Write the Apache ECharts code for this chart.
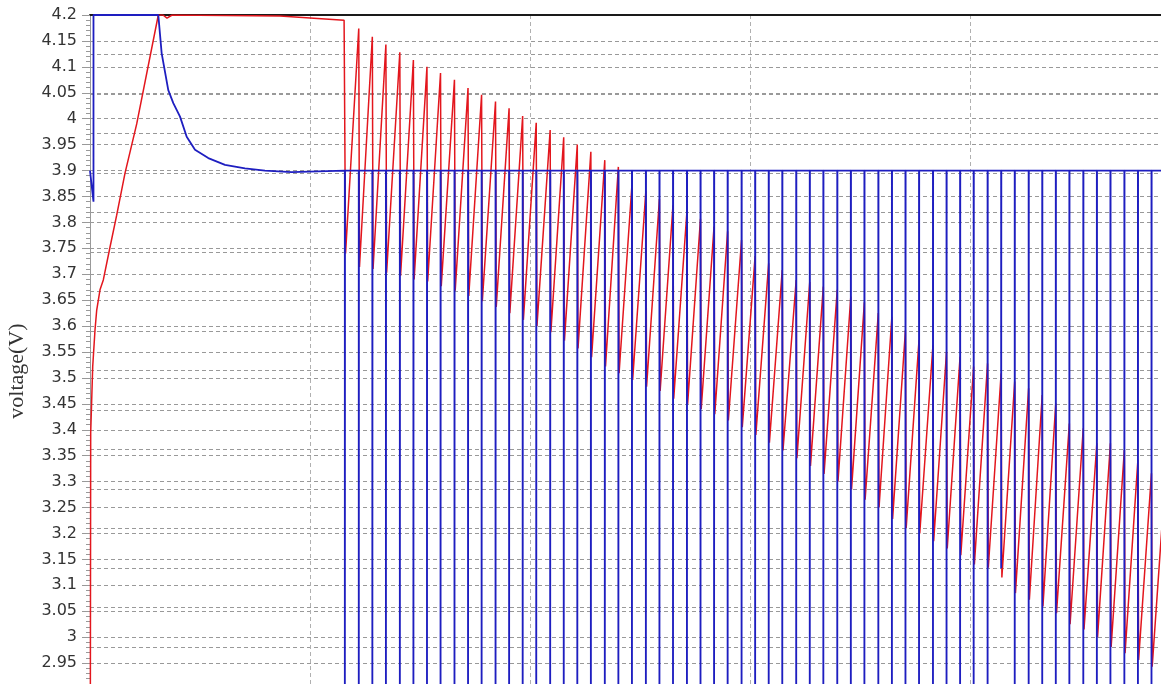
<!DOCTYPE html>
<html>
<head>
<meta charset="utf-8">
<script src="https://cdn.jsdelivr.net/npm/echarts@6/dist/echarts.min.js"></script>
<style>
html,body{margin:0;padding:0;background:#fff;}
#chart{width:1161px;height:684px;}
</style>
</head>
<body>
<div id="chart"></div>
<script>
// ---- data (time in minutes, voltage in V) ----
const yTicks = [2.9, 4.2, 0.05];           // min, max, step of voltage axis
const xGrid = [0, 292.1, 60];               // min, max, step of time axis

// initial charge (red) ramp
const redRiseT = [0.05, 0.08, 0.19, 0.46, 0.74, 1.36, 1.83, 2.73, 3.63, 5.45, 7.28, 9.55, 12.74, 18.63, 19.9, 21.0, 22.4, 51.8, 69.3];
const redRiseV = [2.50, 2.80, 3.394, 3.457, 3.522, 3.592, 3.631, 3.670, 3.689, 3.752, 3.814, 3.895, 3.990, 4.200, 4.200, 4.194, 4.200, 4.198, 4.190];

// blue relaxation curve before the pulses
const blueRelaxT = [0.0, 0.95, 0.95, 18.63, 19.55, 21.35, 22.72, 24.55, 26.37, 28.64, 32.26, 36.82, 42.27, 47.73, 55.0];
const blueRelaxV = [3.90, 3.84, 4.20, 4.20, 4.126, 4.055, 4.030, 4.004, 3.965, 3.940, 3.924, 3.911, 3.904, 3.900, 3.897];
const blueBase = 3.9;

// pulse times
const pulseT = [69.5, 73.3, 77.0, 80.7, 84.5, 88.2, 91.9, 95.6, 99.4, 103.1,
  106.8, 110.6, 114.3, 118.0, 121.7, 125.5, 129.2, 132.9, 136.6, 140.4,
  144.1, 147.8, 151.6, 155.3, 159.0, 162.8, 166.5, 170.2, 173.9, 177.7,
  181.4, 185.1, 188.8, 192.6, 196.3, 200.0, 203.8, 207.5, 211.2, 215.0,
  218.7, 222.4, 226.1, 229.9, 233.6, 237.3, 241.0, 244.8, 248.5, 252.2,
  256.0, 259.7, 263.4, 267.1, 270.9, 274.6, 278.3, 282.1, 285.8, 289.5, 293.2];

// red voltage just before each pulse
const peakV = [4.190, 4.174, 4.158, 4.143, 4.128, 4.113, 4.100, 4.088, 4.075, 4.059,
  4.046, 4.033, 4.020, 4.005, 3.992, 3.978, 3.964, 3.950, 3.936, 3.920,
  3.907, 3.872, 3.860, 3.845, 3.833, 3.821, 3.807, 3.792, 3.783, 3.766,
  3.735, 3.721, 3.708, 3.689, 3.685, 3.676, 3.670, 3.657, 3.646, 3.625,
  3.618, 3.592, 3.573, 3.563, 3.550, 3.541, 3.522, 3.528, 3.509, 3.493,
  3.480, 3.467, 3.451, 3.412, 3.403, 3.374, 3.374, 3.361, 3.342, 3.316, 3.300];

// red voltage at the bottom of each pulse
const troughV = [3.740, 3.714, 3.710, 3.703, 3.697, 3.690, 3.686, 3.677, 3.668, 3.658,
  3.648, 3.637, 3.625, 3.612, 3.600, 3.588, 3.572, 3.557, 3.540, 3.522,
  3.509, 3.496, 3.483, 3.475, 3.460, 3.450, 3.440, 3.430, 3.418, 3.405,
  3.390, 3.375, 3.360, 3.345, 3.330, 3.315, 3.300, 3.285, 3.265, 3.250,
  3.228, 3.210, 3.200, 3.185, 3.171, 3.158, 3.140, 3.134, 3.115, 3.085,
  3.072, 3.059, 3.046, 3.025, 3.015, 3.000, 2.981, 2.969, 2.956, 2.943];

// blue value at the bottom of each pulse
const blueDipV = [2.5, 2.5, 2.5, 2.5, 2.5, 2.5, 2.5, 2.5, 2.5, 2.5,
  2.5, 2.5, 2.5, 2.5, 2.5, 2.5, 2.5, 2.5, 2.5, 2.5,
  2.5, 2.5, 2.5, 2.5, 2.5, 2.5, 2.5, 2.5, 2.5, 2.5,
  2.5, 2.5, 2.5, 2.5, 2.5, 2.5, 2.5, 2.5, 2.5, 2.5,
  2.5, 2.5, 2.5, 2.5, 2.5, 2.5, 2.5, 2.5, 3.133, 2.5,
  2.5, 2.5, 2.5, 2.5, 2.5, 2.5, 2.5, 2.5, 2.5, 2.5];

// ---- build series ----
const redData = redRiseT.map((t, i) => [t, redRiseV[i]]);
for (let i = 0; i < troughV.length; i++) {
  redData.push([pulseT[i], peakV[i]]);
  redData.push([pulseT[i] + 0.2, troughV[i]]);
}
redData.push([pulseT[troughV.length], peakV[troughV.length]]);

const blueData = blueRelaxT.map((t, i) => [t, blueRelaxV[i]]);
for (let i = 0; i < blueDipV.length; i++) {
  blueData.push([pulseT[i], blueBase]);
  blueData.push([pulseT[i], blueDipV[i]]);
  blueData.push([pulseT[i] + 0.05, blueBase]);
}
blueData.push([xGrid[1] + 1, blueBase]);

const chart = echarts.init(document.getElementById('chart'), null, {renderer: 'canvas'});
const dash = [4, 3];
chart.setOption({
  animation: false,
  backgroundColor: '#fff',
  grid: {left: 90, top: 15, width: 1071, height: 674, containLabel: false, outerBoundsMode: 'none'},
  xAxis: {
    type: 'value', position: 'top', min: xGrid[0], max: xGrid[1], interval: xGrid[2],
    axisLine: {show: true, onZero: false, lineStyle: {color: '#1a1a1a', width: 2}},
    axisTick: {show: false}, axisLabel: {show: false},
    splitLine: {show: true, lineStyle: {color: '#b0b0b0', type: dash, width: 1}}
  },
  yAxis: [{
    type: 'value', min: yTicks[0], max: yTicks[1], interval: yTicks[2],
    name: 'voltage(V)', nameLocation: 'middle', nameGap: 62, nameRotate: 90,
    nameTextStyle: {fontFamily: 'Liberation Serif', fontSize: 22, color: '#333', padding: [0, 38, 0, 0]},
    axisLine: {show: true, onZero: false, lineStyle: {color: '#999'}},
    axisTick: {show: true, length: 8, lineStyle: {color: '#999'}},
    minorTick: {show: true, splitNumber: 5, length: 4, lineStyle: {color: '#999'}},
    axisLabel: {fontFamily: 'DejaVu Sans', fontSize: 16, color: '#333', margin: 13, showMinLabel: false,
      formatter: v => String(parseFloat(v.toFixed(2)))},
    splitLine: {show: true, lineStyle: {color: '#999', type: dash, width: 1}}
  }, {
    type: 'value', inverse: true, min: 0, max: 17.063, interval: 1,
    axisLine: {show: false}, axisTick: {show: false}, axisLabel: {show: false},
    splitLine: {show: true, lineStyle: {color: '#999', type: dash, width: 1}}
  }],
  series: [{
    type: 'line', name: 'red', data: redData, symbol: 'none', clip: true,
    lineStyle: {color: '#e3161d', width: 1.5}, z: 3
  }, {
    type: 'line', name: 'blue', data: blueData, symbol: 'none', clip: true,
    lineStyle: {color: '#1e1ec0', width: 1.8}, z: 4
  }]
});
</script>
</body>
</html>
